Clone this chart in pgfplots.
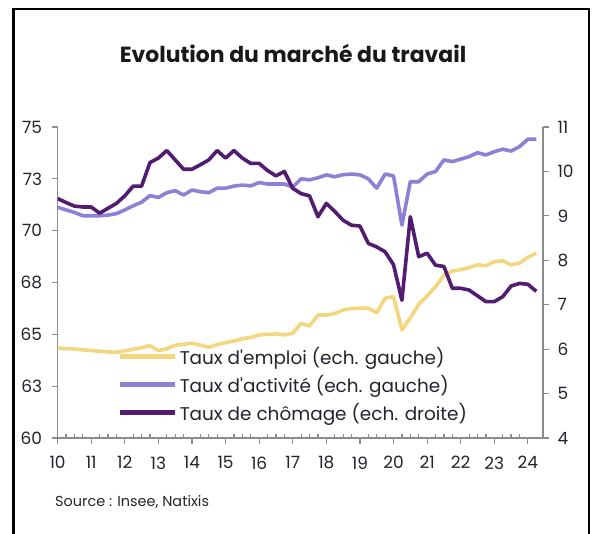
\documentclass[border=0pt]{standalone}
\usepackage{pgfplots}
\pgfplotsset{compat=1.18}
\usepackage{fontspec}
\setmainfont{Poppins}
\definecolor{emploi}{RGB}{245,214,128}
\definecolor{activite}{RGB}{142,128,212}
\definecolor{chomage}{RGB}{82,28,112}
\definecolor{axgray}{RGB}{140,140,140}
\definecolor{lblcol}{RGB}{35,35,45}

\pgfplotstableread{
x y
10.00 64.33
10.25 64.31
10.50 64.29
10.75 64.25
11.00 64.22
11.25 64.18
11.50 64.15
11.75 64.14
12.00 64.20
12.25 64.28
12.50 64.36
12.75 64.45
13.00 64.22
13.25 64.30
13.50 64.47
13.75 64.52
14.00 64.57
14.25 64.48
14.50 64.38
14.75 64.50
15.00 64.60
15.25 64.68
15.50 64.78
15.75 64.85
16.00 64.97
16.25 65.00
16.50 65.02
16.75 64.97
17.00 65.05
17.25 65.53
17.50 65.40
17.75 65.93
18.00 65.93
18.25 66.00
18.50 66.17
18.75 66.24
19.00 66.26
19.25 66.26
19.50 66.04
19.75 66.74
20.00 66.82
20.25 65.21
20.50 65.80
20.75 66.45
21.00 66.85
21.25 67.30
21.50 67.85
21.75 68.05
22.00 68.12
22.25 68.22
22.50 68.35
22.75 68.31
23.00 68.50
23.25 68.55
23.50 68.35
23.75 68.43
24.00 68.72
24.25 68.91
}\emploidata

\pgfplotstableread{
x y
10.00 71.13
10.25 71.00
10.50 70.88
10.75 70.72
11.00 70.72
11.25 70.72
11.50 70.75
11.75 70.82
12.00 71.00
12.25 71.20
12.50 71.37
12.75 71.69
13.00 71.60
13.25 71.83
13.50 71.93
13.75 71.72
14.00 71.96
14.25 71.88
14.50 71.83
14.75 72.05
15.00 72.05
15.25 72.15
15.50 72.20
15.75 72.16
16.00 72.32
16.25 72.25
16.50 72.25
16.75 72.25
17.00 72.10
17.25 72.50
17.50 72.45
17.75 72.55
18.00 72.69
18.25 72.60
18.50 72.70
18.75 72.73
19.00 72.69
19.25 72.50
19.50 72.05
19.75 72.73
20.00 72.64
20.25 70.27
20.50 72.36
20.75 72.36
21.00 72.73
21.25 72.85
21.50 73.41
21.75 73.33
22.00 73.45
22.25 73.57
22.50 73.76
22.75 73.65
23.00 73.81
23.25 73.93
23.50 73.84
23.75 74.05
24.00 74.41
24.25 74.41
}\activitedata

\pgfplotstableread{
x y
10.00 9.39
10.25 9.30
10.50 9.22
10.75 9.20
11.00 9.20
11.25 9.06
11.50 9.17
11.75 9.28
12.00 9.45
12.25 9.67
12.50 9.67
12.75 10.20
13.00 10.30
13.25 10.47
13.50 10.26
13.75 10.05
14.00 10.05
14.25 10.15
14.50 10.26
14.75 10.47
15.00 10.30
15.25 10.47
15.50 10.30
15.75 10.18
16.00 10.18
16.25 10.02
16.50 9.90
16.75 10.00
17.00 9.62
17.25 9.50
17.50 9.45
17.75 8.98
18.00 9.28
18.25 9.10
18.50 8.90
18.75 8.79
19.00 8.77
19.25 8.38
19.50 8.30
19.75 8.19
20.00 7.90
20.25 7.10
20.50 8.98
20.75 8.08
21.00 8.16
21.25 7.89
21.50 7.86
21.75 7.37
22.00 7.37
22.25 7.33
22.50 7.20
22.75 7.07
23.00 7.07
23.25 7.18
23.50 7.42
23.75 7.48
24.00 7.46
24.25 7.30
}\chomagedata

\pgfplotsset{
  common/.style={
    at={(0,0)}, anchor=south west,
    scale only axis, width=485.4bp, height=311bp,
    xmin=10, xmax=24.45,
    axis line style={axgray, line width=1.2bp},
    tick style={axgray, line width=1.2bp},
    major tick length=6bp,
    tick label style={font=\fontsize{17}{20}\selectfont, text=lblcol},
    /pgf/number format/assume math mode=true,
  },
}

\begin{document}
\begin{tikzpicture}[x=1bp,y=1bp]
\path[use as bounding box] (-57.6,-96) rectangle (534.4,438);
\draw[line width=2.6bp, black] (-44.1,-96) -- (-44.1,429) -- (531.4,429) -- (531.4,-96);
\node[font=\fontsize{22}{25}\selectfont\bfseries, text=black!90] at (235.4,385) {Evolution du marché du travail};
\node[font=\fontsize{14.5}{17}\selectfont, text=black!85, anchor=west, inner sep=0pt] at (-2.6,-64) {Source : Insee, Natixis};

\begin{axis}[common,
  ymin=60, ymax=75,
  axis x line*=bottom, axis y line*=left,
  xtick={10,11,...,24},
  minor x tick num=3,
  minor tick length=4bp,
  minor x tick style={yshift=4bp},
  tick align=outside,
  ytick={60,62.5,65,67.5,70,72.5,75},
  yticklabels={60,63,65,68,70,73,75},
  xticklabel style={yshift=-9bp},
  yticklabel style={xshift=-6bp},
]
\addplot[emploi, line width=3.6bp, line join=round] table {\emploidata};
\addplot[activite, line width=3.6bp, line join=round] table {\activitedata};
\end{axis}

\begin{axis}[common,
  ymin=4, ymax=11,
  axis x line=none, axis y line*=right,
  ytick={4,5,...,11},
  tick align=outside,
  yticklabel style={xshift=5bp},
  legend style={at={(0.1225,0.300)}, anchor=north west, draw=none, fill=none,
    font=\fontsize{18.5}{21}\selectfont, text=lblcol, inner sep=0pt,
    row sep=5.5bp,
    nodes={inner xsep=2bp, inner ysep=2bp}},
  legend cell align=left,
  legend image code/.code={\draw[#1, line width=5.5bp] (0bp,0bp) -- (55bp,0bp);},
]
\addlegendimage{emploi}
\addlegendentry{Taux d\textquotesingle emploi (ech. gauche)}
\addlegendimage{activite}
\addlegendentry{Taux d\textquotesingle activité (ech. gauche)}
\addplot[chomage, line width=3.6bp, line join=round] table {\chomagedata};
\addlegendentry{Taux de chômage (ech. droite)}
\end{axis}
\end{tikzpicture}
\end{document}
